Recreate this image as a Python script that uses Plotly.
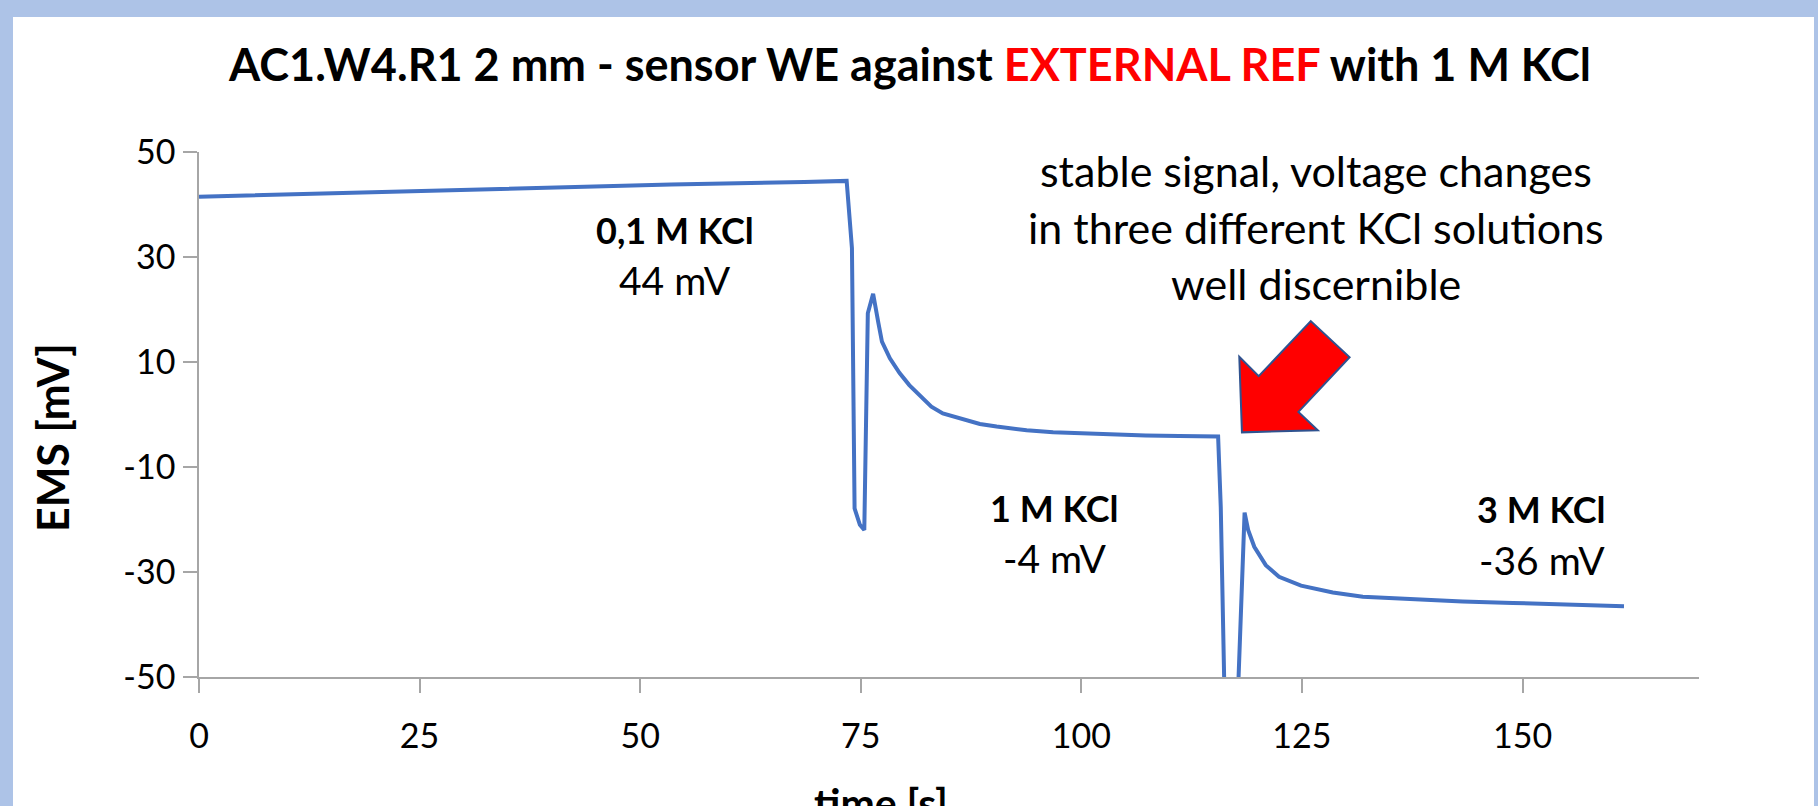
import plotly.graph_objects as go

# ---- data ----
TIME = [0, 18.1, 35.8, 53.5, 68.6, 73.4, 74.0, 74.3, 74.9, 75.4, 75.8, 76.4, 77.0, 77.4,
        78.3, 79.4, 80.5, 83.0, 84.3, 86.6, 88.5, 90.4, 93.8, 96.8, 99.8, 103.6, 107.3,
        111.1, 115.5, 115.8, 116.3, 117.6, 118.5, 118.9, 119.6, 120.9, 122.4, 124.9,
        128.5, 131.9, 137.6, 143.2, 148.9, 154.5, 161.5]
EMS = [41.5, 42.3, 43.2, 43.8, 44.3, 44.5, 31.7, -17.9, -21.0, -22.0, 19.3, 23.0, 17.4, 13.9,
       10.7, 7.9, 5.6, 1.5, 0.2, -0.9, -1.8, -2.3, -3.0, -3.4, -3.6, -3.8, -4.0,
       -4.1, -4.2, -17.6, -60, -60, -18.7, -22.0, -25.2, -28.7, -30.9, -32.6,
       -33.9, -34.7, -35.2, -35.6, -35.9, -36.2, -36.5]

X_TICKS = [0, 25, 50, 75, 100, 125, 150]
Y_TICKS = [50, 30, 10, -10, -30, -50]

SOLUTIONS = ["0,1 M KCl", "1 M KCl", "3 M KCl"]
VOLTAGES = ["44 mV", "-4 mV", "-36 mV"]
LABEL_X = [53.9, 97.0, 152.2]
NAME_Y = [35.1, -17.8, -18.0]
VOLT_Y = [25.6, -27.4, -27.7]

NOTE_LINES = ["stable signal, voltage changes", "in three different KCl solutions", "well discernible"]
NOTE_X = 126.6
NOTE_Y = [46.4, 35.7, 24.9]

# block arrow outline (data coordinates)
ARROW_X = [118.2, 117.9, 120.1, 126.0, 130.4, 124.6, 126.8]
ARROW_Y = [-3.4, 11.0, 7.3, 17.8, 10.9, 0.5, -3.0]

FONT = "Lato"
BLUE_FRAME = "#ADC3E7"

fig = go.Figure()
fig.add_trace(go.Scatter(x=TIME, y=EMS, mode="lines",
                         line=dict(color="#4472C4", width=4), showlegend=False,
                         hoverinfo="skip"))

annotations = []
for name, volt, x, yn, yv in zip(SOLUTIONS, VOLTAGES, LABEL_X, NAME_Y, VOLT_Y):
    annotations.append(dict(x=x, y=yn, xref="x", yref="y", text="<b>" + name + "</b>",
                            showarrow=False, font=dict(family=FONT, size=36, color="black")))
    annotations.append(dict(x=x, y=yv, xref="x", yref="y", text=volt,
                            showarrow=False, font=dict(family=FONT, size=39, color="black")))
for line, y in zip(NOTE_LINES, NOTE_Y):
    annotations.append(dict(x=NOTE_X, y=y, xref="x", yref="y", text=line, showarrow=False,
                            font=dict(family=FONT, size=43, color="black")))

PL, PR, PT, PB = 199, 1699, 152, 677
PW, PH = PR - PL, PB - PT

# title
annotations.append(dict(x=(909 - PL) / PW, y=(PB - 64) / PH, xref="paper", yref="paper",
                        text="<b>AC1.W4.R1 2 mm - sensor WE against "
                             "<span style='color:#FF0000'>EXTERNAL REF</span> with 1 M KCl</b>",
                        showarrow=False, font=dict(family=FONT, size=45, color="black"),
                        xanchor="center", yanchor="middle"))
# axis titles
annotations.append(dict(x=(52 - PL) / PW, y=(PB - 438) / PH, xref="paper", yref="paper",
                        text="<b>EMS [mV]</b>", textangle=-90, showarrow=False,
                        font=dict(family=FONT, size=43, color="black"),
                        xanchor="center", yanchor="middle"))
annotations.append(dict(x=(881 - PL) / PW, y=(PB - 802) / PH, xref="paper", yref="paper",
                        text="<b>time [s]</b>", showarrow=False,
                        font=dict(family=FONT, size=41, color="black"),
                        xanchor="center", yanchor="middle"))

path = "M " + " L ".join(f"{x},{y}" for x, y in zip(ARROW_X, ARROW_Y)) + " Z"
shapes = [
    dict(type="rect", xref="paper", yref="paper",
         x0=(13 - PL) / PW, x1=(1814 - PL) / PW, y0=(PB - 810) / PH, y1=(PB - 17) / PH,
         fillcolor="white", line=dict(width=0), layer="below"),
    dict(type="path", xref="x", yref="y", path=path, fillcolor="#FF0000",
         line=dict(color="#2F528F", width=2), layer="above"),
]

axis_common = dict(showgrid=False, zeroline=False, showline=True, linecolor="#A6A6A6",
                   linewidth=1.5, ticks="outside", tickcolor="#A6A6A6", tickwidth=1.5,
                   ticklen=14, tickfont=dict(family=FONT, size=34, color="black"))

fig.update_layout(
    width=1818, height=806, autosize=False,
    margin=dict(l=PL, r=1818 - PR, t=PT, b=806 - PB, pad=0),
    paper_bgcolor=BLUE_FRAME, plot_bgcolor="white",
    xaxis=dict(range=[0, 170], tickvals=X_TICKS, ticktext=[str(v) for v in X_TICKS],
               ticklabelstandoff=14, **axis_common),
    yaxis=dict(range=[-50, 50], tickvals=Y_TICKS, ticktext=[str(v) for v in Y_TICKS],
               ticklabelstandoff=1, **axis_common),
    annotations=annotations, shapes=shapes, showlegend=False,
)

fig.write_html("out.html", config={"displayModeBar": False},
               post_script="document.body.style.margin='0';document.body.style.overflow='hidden';")
